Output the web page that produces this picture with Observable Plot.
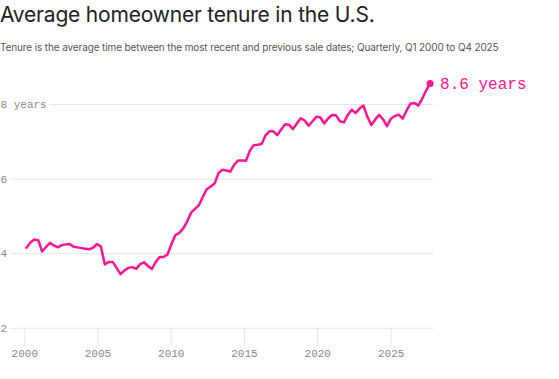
<!DOCTYPE html>
<html>
<head>
<meta charset="utf-8">
<script src="https://cdn.jsdelivr.net/npm/d3@7"></script>
<script src="https://cdn.jsdelivr.net/npm/@observablehq/plot@0.6"></script>
<style>
  body { margin: 0; background: #fff; }
  #wrap { position: relative; width: 559px; height: 379px; overflow: hidden; font-family: Inter, "Noto Sans", sans-serif; }
  #title { position: absolute; left: 0; top: 0; font-size: 21px; line-height: 28px; padding-top: 1px; color: #222; font-weight: 400; white-space: nowrap; letter-spacing: -0.2px; }
  #subtitle { position: absolute; left: 0; top: 40px; font-size: 11px; line-height: 14px; color: #555; white-space: nowrap; letter-spacing: -0.1px; }
  #chart { position: absolute; left: 0; top: 60px; }
</style>
</head>
<body>
<div id="wrap">
  <div id="title">Average homeowner tenure in the U.S.</div>
  <div id="subtitle">Tenure is the average time between the most recent and previous sale dates; Quarterly, Q1 2000 to Q4 2025</div>
  <div id="chart"></div>
</div>
<script>
// Quarterly average tenure (years), Q1 2000 .. Q4 2025
const startYear = 2000;
const tenure = [
  4.16, 4.30, 4.38, 4.36, 4.06, 4.18, 4.29, 4.22, 4.17, 4.23, 4.25, 4.26, 4.19, 4.17, 4.15, 4.13,
  4.12, 4.16, 4.26, 4.19, 3.71, 3.78, 3.78, 3.62, 3.45, 3.55, 3.62, 3.64, 3.59, 3.72, 3.77, 3.67,
  3.59, 3.78, 3.91, 3.91, 3.98, 4.26, 4.50, 4.56, 4.68, 4.86, 5.10, 5.20, 5.30, 5.52, 5.73, 5.80,
  5.88, 6.16, 6.25, 6.23, 6.20, 6.38, 6.50, 6.50, 6.49, 6.76, 6.91, 6.92, 6.94, 7.17, 7.28, 7.28,
  7.18, 7.33, 7.47, 7.46, 7.34, 7.49, 7.63, 7.57, 7.43, 7.55, 7.67, 7.65, 7.49, 7.63, 7.72, 7.71,
  7.55, 7.52, 7.72, 7.86, 7.77, 7.89, 7.97, 7.67, 7.45, 7.60, 7.72, 7.60, 7.42, 7.62, 7.69, 7.73,
  7.62, 7.84, 8.02, 8.04, 7.97, 8.16, 8.38, 8.56
];
const yTicks = [2, 4, 6, 8];
const xTickLabels = ["2000", "2005", "2010", "2015", "2020", "2025"];
// positions of the year labels on the chart's quarter axis
const xTickPositions = [-0.43, 18.24, 36.95, 55.63, 74.33, 93.06];

// fit the subtitle to the reference's width
const sub = document.getElementById("subtitle");
const w = sub.getBoundingClientRect().width;
if (w > 0) sub.style.fontSize = (11 * 500 / w).toFixed(2) + "px";

const data = tenure.map((v, i) => ({
  i,
  quarter: `Q${(i % 4) + 1} ${startYear + Math.floor(i / 4)}`,
  value: v
}));
const last = data[data.length - 1];

const pink = "#ff1493";
const mono = "'Liberation Mono', 'DejaVu Sans Mono', monospace";

const chart = Plot.plot({
  width: 559,
  height: 319,
  marginTop: 44,
  marginBottom: 51.2,
  marginLeft: 0,
  marginRight: 126,
  style: { fontFamily: mono, background: "transparent", overflow: "visible" },
  x: { domain: [-6.63, 103.87], axis: null, label: null },
  y: { domain: [2, 8], axis: null, label: null },
  marks: [
    Plot.ruleY(yTicks, { stroke: "#e6e6e6", strokeWidth: 1 }),
    Plot.axisX(xTickPositions, {
      tickSize: 18,
      tickPadding: 3,
      stroke: "#e6e6e6",
      fill: "#888",
      fontSize: 11,
      fontFamily: mono,
      label: null,
      tickFormat: (d, k) => xTickLabels[k]
    }),
    Plot.text(yTicks, {
      y: d => d,
      frameAnchor: "left",
      textAnchor: "start",
      text: d => d === 8 ? "8 years" : String(d),
      fill: "#888",
      stroke: "white",
      strokeWidth: 8,
      paintOrder: "stroke",
      fontSize: 11,
      fontFamily: mono
    }),
    Plot.line(data, { x: "i", y: "value", stroke: pink, strokeWidth: 2.5, strokeLinejoin: "round", strokeLinecap: "round" }),
    Plot.dot([last], { x: "i", y: "value", r: 3.5, fill: pink }),
    Plot.text([last], {
      x: "i", y: "value",
      text: d => `${d.value.toFixed(1)} years`,
      textAnchor: "start",
      dx: 10,
      fill: pink,
      fontSize: 16,
      fontFamily: mono
    })
  ]
});
document.getElementById("chart").append(chart);
</script>
</body>
</html>
